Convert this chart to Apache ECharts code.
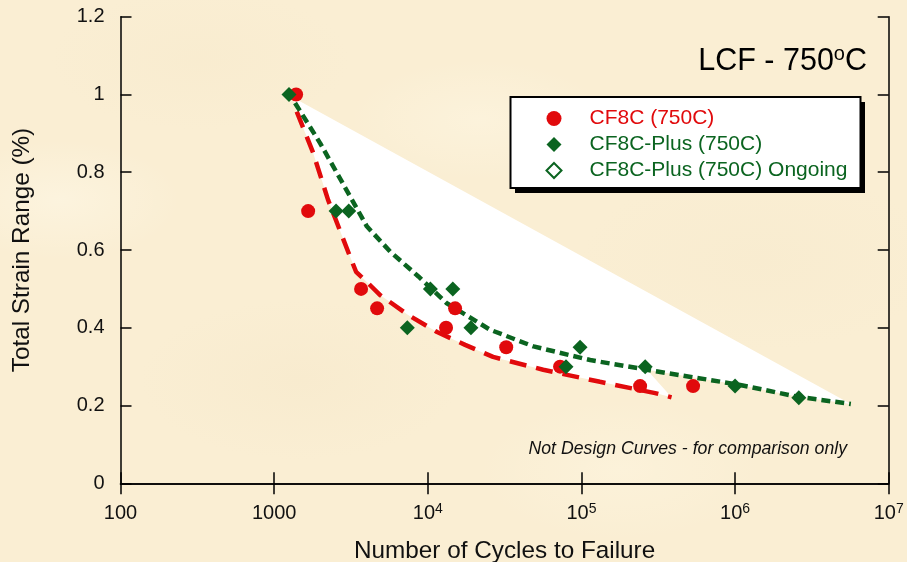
<!DOCTYPE html>
<html>
<head>
<meta charset="utf-8">
<script src="https://cdn.jsdelivr.net/npm/echarts@6/dist/echarts.min.js"></script>
<style>
  html, body { margin: 0; padding: 0; }
  body {
    background-color: #FAEED3;
    /* faint parchment mottling */
    background-image:
      radial-gradient(ellipse 120px 60px at 60px 200px, rgba(255,250,235,0.45), rgba(255,250,235,0) 100%),
      radial-gradient(ellipse 160px 80px at 300px 380px, rgba(240,224,190,0.2), rgba(240,224,190,0) 100%),
      radial-gradient(ellipse 140px 70px at 620px 470px, rgba(255,248,228,0.4), rgba(255,248,228,0) 100%),
      radial-gradient(ellipse 180px 90px at 760px 260px, rgba(242,228,196,0.2), rgba(242,228,196,0) 100%),
      radial-gradient(ellipse 150px 70px at 200px 60px, rgba(243,228,195,0.2), rgba(243,228,195,0) 100%),
      radial-gradient(ellipse 130px 60px at 480px 120px, rgba(255,249,232,0.4), rgba(255,249,232,0) 100%);
  }
  #chart { width: 907px; height: 562px; }
</style>
</head>
<body>
<div id="chart"></div>
<script>
// Low-cycle fatigue at 750 °C: measured points and fitted trend curves
const RED = '#E10A0C';
const GREEN = '#0B6420';
const FONT = '"Liberation Sans", Arial, sans-serif';

// Measured specimens: [cycles to failure, total strain range %]
const cf8cPoints = [
  [1390, 1.0], [1665, 0.70], [3680, 0.50], [4680, 0.45], [13150, 0.40],
  [15060, 0.45], [32400, 0.35], [72600, 0.30], [241000, 0.25], [533000, 0.25]
];
const cf8cPlusPoints = [
  [1250, 1.0], [2530, 0.70], [3060, 0.70], [7360, 0.40], [10400, 0.50],
  [14550, 0.50], [19100, 0.40], [79400, 0.30], [98000, 0.35], [260000, 0.30],
  [1000000, 0.25], [2600000, 0.22]
];
const cf8cPlusOngoing = [];

// Fitted trend curves
const cf8cFit = [
  [1403, 0.956], [1790, 0.851], [2244, 0.729], [3119, 0.583], [3414, 0.544],
  [4009, 0.518], [4898, 0.484], [7450, 0.433], [11500, 0.389], [17500, 0.356],
  [26600, 0.325], [56400, 0.292], [132000, 0.261], [302000, 0.232], [386000, 0.221]
];
const cf8cPlusFit = [
  [1368, 0.978], [1991, 0.875], [3119, 0.738], [4009, 0.661], [5689, 0.596],
  [8690, 0.532], [13300, 0.463], [25400, 0.395], [48800, 0.352], [114000, 0.317],
  [267000, 0.292], [1080000, 0.253], [2520000, 0.223], [5670000, 0.204]
];

// Corner where the shaded band opens
const bandApex = [1328, 0.992];
// Green-curve point where the band's lower edge drops to the CF8C curve
const bandJoinCycles = 267000;

// Axis tick labels
const xTickLabels = ['100', '1000', '10^4', '10^5', '10^6', '10^7'];

function tickText(i) {
  const t = xTickLabels[i];
  if (t === undefined) return '';
  const parts = t.split('^');
  return parts.length === 2 ? '{b|' + parts[0] + '}{s|' + parts[1] + '}' : '{b|' + t + '}';
}

// Band outline: apex -> far end of green fit -> back along green fit -> CF8C fit back to start
function bandOutline() {
  const pts = [bandApex];
  const greenBack = cf8cPlusFit.filter(p => p[0] >= bandJoinCycles).reverse();
  greenBack.forEach(p => pts.push(p));
  cf8cFit.slice().reverse().forEach(p => pts.push(p));
  return pts;
}

const chart = echarts.init(document.getElementById('chart'), null, { renderer: 'canvas' });

const axisLine = { show: true, lineStyle: { color: '#000', width: 1.5 } };
const axisTick = { show: true, inside: true, length: 11, lineStyle: { color: '#000', width: 1.5 } };

const option = {
  backgroundColor: 'transparent',
  animation: false,
  textStyle: { fontFamily: FONT },
  grid: { left: 120.5, right: 18.3, top: 16.7, bottom: 78.7, containLabel: false, outerBoundsMode: 'none' },
  title: {
    text: '{m|LCF - 750}{s|o}{m|C}',
    right: 35,
    top: 39,
    textStyle: {
      fontWeight: 'normal',
      rich: {
        m: { fontFamily: FONT, fontSize: 30.5, fontWeight: 'normal', color: '#000', lineHeight: 36 },
        s: { fontFamily: FONT, fontSize: 20, fontWeight: 'normal', color: '#000', lineHeight: 5,
          verticalAlign: 'top' }
      }
    }
  },
  xAxis: [
    {
      type: 'log', logBase: 10, min: 100, max: 10000000, position: 'bottom',
      name: 'Number of Cycles to Failure',
      nameLocation: 'middle', nameGap: 56,
      nameTextStyle: { fontFamily: FONT, fontSize: 24.3, color: '#111' },
      axisLine, axisTick,
      splitLine: { show: false },
      axisLabel: {
        margin: 18.5,
        formatter: (v, i) => tickText(Math.round(Math.log10(v)) - 2),
        rich: {
          b: { fontFamily: FONT, fontSize: 20, color: '#111', lineHeight: 24 },
          s: { fontFamily: FONT, fontSize: 14, color: '#111', lineHeight: 24, verticalAlign: 'top', padding: [0, 0, 12, 0] }
        }
      }
    },
    {
      type: 'log', logBase: 10, min: 100, max: 10000000, position: 'top',
      axisLine, axisTick, axisLabel: { show: false }, splitLine: { show: false }
    }
  ],
  yAxis: [
    {
      type: 'value', min: 0, max: 1.2, interval: 0.2, position: 'left',
      name: 'Total Strain Range (%)',
      nameLocation: 'middle', nameGap: 86, nameRotate: 90,
      nameTextStyle: { fontFamily: FONT, fontSize: 24.3, color: '#111' },
      axisLine, axisTick,
      splitLine: { show: false },
      axisLabel: { margin: 16, fontFamily: FONT, fontSize: 20, color: '#111',
        formatter: v => String(+v.toFixed(1)) }
    },
    {
      type: 'value', min: 0, max: 1.2, interval: 0.2, position: 'right',
      axisLine, axisTick, axisLabel: { show: false }, splitLine: { show: false }
    }
  ],
  legend: {
    orient: 'vertical',
    left: 545.5,
    top: 108,
    padding: 0,
    itemGap: 5,
    itemWidth: 15,
    itemHeight: 15,
    selectedMode: false,
    textStyle: { fontFamily: FONT, fontSize: 21, lineHeight: 20.5, padding: [0, 0, 0, 23] },
    data: [
      { name: 'CF8C (750C)', icon: 'circle', textStyle: { color: RED } },
      { name: 'CF8C-Plus (750C)', icon: 'diamond', textStyle: { color: GREEN } },
      { name: 'CF8C-Plus (750C) Ongoing', icon: 'diamond', textStyle: { color: GREEN } }
    ]
  },
  graphic: [
    { type: 'rect', z: 3, shape: { x: 515, y: 102, width: 350, height: 91 }, style: { fill: '#000' } },
    { type: 'rect', z: 3, shape: { x: 510.5, y: 97, width: 350, height: 91 },
      style: { fill: '#fff', stroke: '#000', lineWidth: 2 } },
    { type: 'text', z: 3, right: 60, top: 440,
      style: { text: 'Not Design Curves - for comparison only', fontFamily: FONT,
        fontSize: 17.7, fontStyle: 'italic', fill: '#111' } }
  ],
  series: [
    {
      name: 'band', type: 'custom', silent: true, z: 1,
      data: [bandApex],
      renderItem: (params, api) => ({
        type: 'polygon',
        shape: { points: bandOutline().map(p => api.coord(p)) },
        style: { fill: '#ffffff' }
      })
    },
    {
      name: 'cf8c-fit', type: 'line', data: cf8cFit, symbol: 'none', z: 2,
      lineStyle: { color: RED, width: 4.5, type: [17, 10] }
    },
    {
      name: 'cf8c-plus-fit', type: 'line', data: cf8cPlusFit, symbol: 'none', z: 2,
      lineStyle: { color: GREEN, width: 4.5, type: [9, 5] }
    },
    {
      name: 'CF8C (750C)', type: 'scatter', data: cf8cPoints, z: 3,
      symbol: 'circle', symbolSize: 14, itemStyle: { color: RED, opacity: 1 }
    },
    {
      name: 'CF8C-Plus (750C)', type: 'scatter', data: cf8cPlusPoints, z: 4,
      symbol: 'diamond', symbolSize: 15, itemStyle: { color: GREEN, opacity: 1 }
    },
    {
      name: 'CF8C-Plus (750C) Ongoing', type: 'scatter', data: cf8cPlusOngoing, z: 4,
      symbol: 'diamond', symbolSize: 13,
      itemStyle: { color: '#fff', borderColor: GREEN, borderWidth: 1.2, opacity: 1 }
    }
  ]
};

chart.setOption(option);
</script>
</body>
</html>
